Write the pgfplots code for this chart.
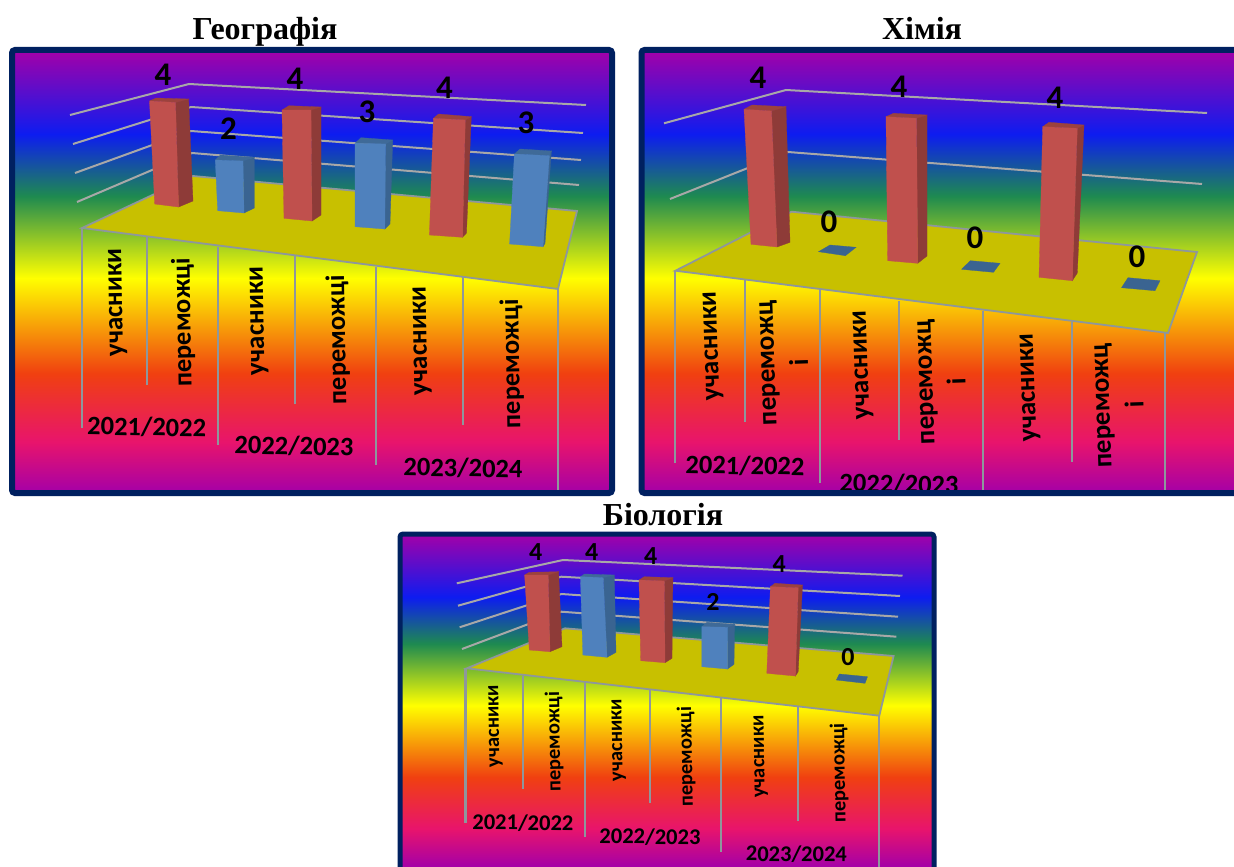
\documentclass[border=0pt]{standalone}
\usepackage{pgfplots}
\pgfplotsset{compat=1.18}
\usepackage{fontspec}
\setmainfont{Liberation Serif}
\newfontfamily\calb[Scale=1.0]{Carlito}
\definecolor{navy}{HTML}{002060}
\definecolor{floorc}{HTML}{C8C000}
\definecolor{redF}{HTML}{C0504D}
\definecolor{redS}{HTML}{8E3B38}
\definecolor{redT}{HTML}{9C423E}
\definecolor{bluF}{HTML}{4F81BD}
\definecolor{bluS}{HTML}{3A6491}
\definecolor{bluT}{HTML}{3F6A98}
\definecolor{gridc}{HTML}{A8A8A8}
\definecolor{dropc}{HTML}{8E979C}
\definecolor{rbA}{HTML}{A400A8}
\definecolor{rbB}{HTML}{0D1CF0}
\definecolor{rbC}{HTML}{1E8A50}
\definecolor{rbD}{HTML}{FFFF00}
\definecolor{rbE}{HTML}{F04010}
\definecolor{rbF}{HTML}{E8146C}
\pgfdeclareverticalshading{rainbow}{100bp}{
  color(0bp)=(rbA); color(25bp)=(rbA); color(30.75bp)=(rbF); color(38.5bp)=(rbE);
  color(49.25bp)=(rbD); color(58.5bp)=(rbC); color(65.5bp)=(rbB); color(75bp)=(rbA); color(100bp)=(rbA)}
\newcommand\poly[2]{\addplot[fill=#1,draw=#1,line width=.3pt,mark=none] coordinates {#2} -- cycle;}
\newcommand\redbar[7]{\poly{redS}{#2#5#6#3}\poly{redT}{#1#7#5#2}\poly{redF}{#1#2#3#4}}
\newcommand\blubar[7]{\poly{bluS}{#2#5#6#3}\poly{bluT}{#1#7#5#2}\poly{bluF}{#1#2#3#4}}
\newcommand\gline[1]{\addplot[draw=gridc,line width=2pt,mark=none] coordinates {#1};}
\newcommand\dl[3]{\addplot[draw=dropc,line width=2.2pt,mark=none] coordinates {(#1,#2)(#1,#3)};}
\newcommand\floorp[1]{\addplot[fill=floorc,draw=dropc,line width=1.8pt,mark=none] coordinates {#1} -- cycle;}
\newcommand\tlab[5]{\node[rotate=#4,font=\calb\bfseries\fontsize{#5}{#5}\selectfont,inner sep=0pt] at (axis cs:#1,#2) {#3};}
\newcommand\ttl[3]{\node[font=\bfseries\fontsize{32}{32}\selectfont,inner sep=0pt,anchor=base] at (axis cs:#1,#2) {#3};}
\begin{document}
\begin{tikzpicture}
\useasboundingbox (0,0) rectangle (1234pt,867pt);
\begin{axis}[at={(0,0)},anchor=south west,scale only axis,width=1234pt,height=867pt,
  xmin=0,xmax=1234,ymin=0,ymax=867,y dir=reverse,axis lines=none,clip=false]
% ---------- titles
\ttl{265}{40}{Географія}
\ttl{922}{40}{Хімія}
\ttl{663}{525}{Біологія}
% ---------- backgrounds
\path[shading=rainbow] (axis cs:12,50) rectangle (axis cs:612,493);
\path[shading=rainbow] (axis cs:641,50) rectangle (axis cs:1234,493);
\path[shading=rainbow] (axis cs:400,534) rectangle (axis cs:934,867);
% ========== Географія
\gline{(70,115)(189,84)(586,105)}
\gline{(73,144)(191,107)(583,133)}
\gline{(75,173)(191,131)(581,160)}
\gline{(77,202)(192,153)(579,185)}
\floorp{(193,176)(577,211)(558,289)(82,228)}
\dl{82}{228}{428}\dl{147}{236}{385}\dl{218}{247}{445}\dl{295}{256}{404}\dl{376}{267}{465}\dl{463}{277}{425}\dl{558}{289}{490}
\redbar{(149.5,101)}{(175.5,102.5)}{(178.6,207)}{(154.7,204)}{(188.6,99)}{(193,201)}{(156,98)}
\blubar{(215.3,160)}{(243,161)}{(244,213)}{(217.7,210.7)}{(254.4,157.3)}{(254.4,208)}{(220.5,155)}
\redbar{(282,110)}{(311,110)}{(312,221)}{(284,218.3)}{(321,107)}{(321,215)}{(289,105.7)}
\blubar{(355,143.3)}{(385.6,144)}{(384.8,229)}{(355,226.7)}{(392.7,140)}{(390,224)}{(361,137.7)}
\redbar{(433.4,118.3)}{(465.3,120)}{(462.5,237.3)}{(429.4,235)}{(471.3,116.7)}{(466.5,233)}{(438.6,114)}
\blubar{(514.4,154)}{(549.4,155.7)}{(543,246.7)}{(509.6,244)}{(551.4,151)}{(545,243.3)}{(520,149)}
\tlab{163}{75}{4}{0}{33}\tlab{228.5}{129}{2}{0}{33}\tlab{295}{79}{4}{0}{33}\tlab{367}{112}{3}{0}{33}\tlab{444.6}{88}{4}{0}{33}\tlab{526}{123}{3}{0}{33}
\tlab{117.6}{302.5}{учасники}{91}{27}\tlab{183.4}{322.5}{переможці}{91}{26.5}
\tlab{259}{321}{учасники}{91}{27}\tlab{338}{340}{переможці}{91}{26.5}
\tlab{422}{341}{учасники}{91}{27}\tlab{512}{364}{переможці}{91}{26.5}
\tlab{146.7}{427}{2021/2022}{-1}{26.5}\tlab{294}{446}{2022/2023}{-1}{26.5}\tlab{463}{468}{2023/2024}{-1}{26.5}
% ========== Хімія
\gline{(664,123.3)(786,90)(1207,113)}
\gline{(670,199)(788,152)(1202,184)}
\floorp{(791.5,211.7)(1197,252)(1168,333)(675.4,270.7)}
\dl{675}{271}{463}\dl{745}{279}{422}\dl{820}{290}{483}\dl{899}{301}{440}\dl{983}{311}{490}\dl{1072}{322}{462}\dl{1165}{333}{490}
\redbar{(744,109.3)}{(771.5,111)}{(777,247)}{(751,244.3)}{(786,106.7)}{(790,242.3)}{(752,105)}
\redbar{(886,116.7)}{(916.5,118.3)}{(917.7,263.3)}{(887.7,260.7)}{(927,115)}{(927,256)}{(893.5,113.3)}
\redbar{(1042.7,126.7)}{(1077.3,128.3)}{(1072.3,280.7)}{(1039,277.3)}{(1084,125)}{(1077.3,273)}{(1049,122.3)}
\poly{bluS}{(818.5,251.7)(830,245)(856,247.3)(845.4,255.7)}
\poly{bluS}{(961.5,269.3)(970.4,260.7)(1000,263.3)(993.5,272.3)}
\poly{bluS}{(1121.5,287.7)(1128,277.7)(1160,280.7)(1155,290.7)}
\tlab{758}{78}{4}{0}{33}\tlab{899}{87}{4}{0}{33}\tlab{1055}{98}{4}{0}{33}
\tlab{829}{222}{0}{0}{33}\tlab{975}{238}{0}{0}{33}\tlab{1137}{257}{0}{0}{33}
\tlab{713}{346}{учасники}{92}{27}\tlab{770}{363}{переможц}{92}{27}\tlab{798.5}{362.7}{і}{92}{27}
\tlab{863}{365}{учасники}{92}{27}\tlab{928}{382}{переможц}{92}{27}\tlab{956}{382}{і}{92}{27}
\tlab{1030}{387.5}{учасники}{92}{27}\tlab{1105}{405.5}{переможц}{92}{27}\tlab{1134}{405}{і}{92}{27}
\tlab{745}{465.7}{2021/2022}{-1}{26.5}\tlab{899}{484}{2022/2023}{-1}{26.5}
% ========== Біологія
\gline{(456.8,583.3)(563,560)(902.5,575.7)}
\gline{(458,605.7)(561.4,576.7)(900,596)}
\gline{(459.6,627.3)(561.4,594)(898,616.7)}
\gline{(462,649)(561.4,611.7)(896.4,636.7)}
\floorp{(565,628.3)(893.6,656)(879.3,715.7)(466.8,668.3)}
\dl{465.4}{668}{822.7}\dl{522.9}{676}{789}\dl{584.6}{683}{836.7}\dl{650}{690}{803}\dl{720.7}{698}{851.7}\dl{797.9}{706.7}{820.7}\dl{879.3}{715.7}{867}
\redbar{(524.6,575)}{(548.2,575)}{(550,651.7)}{(529.3,650)}{(558.6,571.7)}{(562,646.7)}{(529.3,572.3)}
\blubar{(580.4,576.7)}{(603.2,577.7)}{(607,657.3)}{(582.9,655)}{(614.3,575)}{(616,652.3)}{(584.6,574)}
\redbar{(639,580)}{(664.3,581)}{(665,662.7)}{(640.7,660.7)}{(672.9,577.7)}{(672,658.3)}{(644.3,576.7)}
\blubar{(701.8,626.7)}{(727.5,627.3)}{(727.5,669)}{(701.8,666.7)}{(734.6,624.3)}{(734,664.3)}{(707,622.3)}
\redbar{(770.4,586.7)}{(798.2,587.7)}{(795.4,676)}{(766.8,673.3)}{(802.5,585)}{(798.2,671.7)}{(775,583.3)}
\poly{bluS}{(836.4,680)(839.3,674)(867.5,676.7)(865,683.3)}
\tlab{535.7}{552.3}{4}{0}{26}\tlab{591.8}{552}{4}{0}{26}\tlab{650.7}{555.7}{4}{0}{26}\tlab{713}{602.3}{2}{0}{26}\tlab{779.3}{564.3}{4}{0}{26}\tlab{848}{656.7}{0}{0}{26}
\tlab{495.4}{726}{учасники}{91}{20.5}\tlab{554.3}{741.7}{переможці}{91}{20.5}
\tlab{618.6}{740}{учасники}{91}{20.5}\tlab{686.4}{756.7}{переможці}{91}{20.5}
\tlab{760.7}{756.5}{учасники}{91}{20.5}\tlab{839.3}{773}{переможці}{91}{20.5}
\tlab{522.9}{822.7}{2021/2022}{-0.5}{22.5}\tlab{650}{836.7}{2022/2023}{-0.5}{22.5}\tlab{796.4}{854}{2023/2024}{-0.5}{22.5}
% ---------- frames
\draw[navy,line width=6pt,rounded corners=3pt] (axis cs:12,50) rectangle (axis cs:612,493);
\draw[navy,line width=6pt,rounded corners=3pt] (axis cs:641.5,50) rectangle (axis cs:1250,493);
\draw[navy,line width=5pt,rounded corners=3pt] (axis cs:400,534) rectangle (axis cs:934,880);
\end{axis}
\end{tikzpicture}
\end{document}
